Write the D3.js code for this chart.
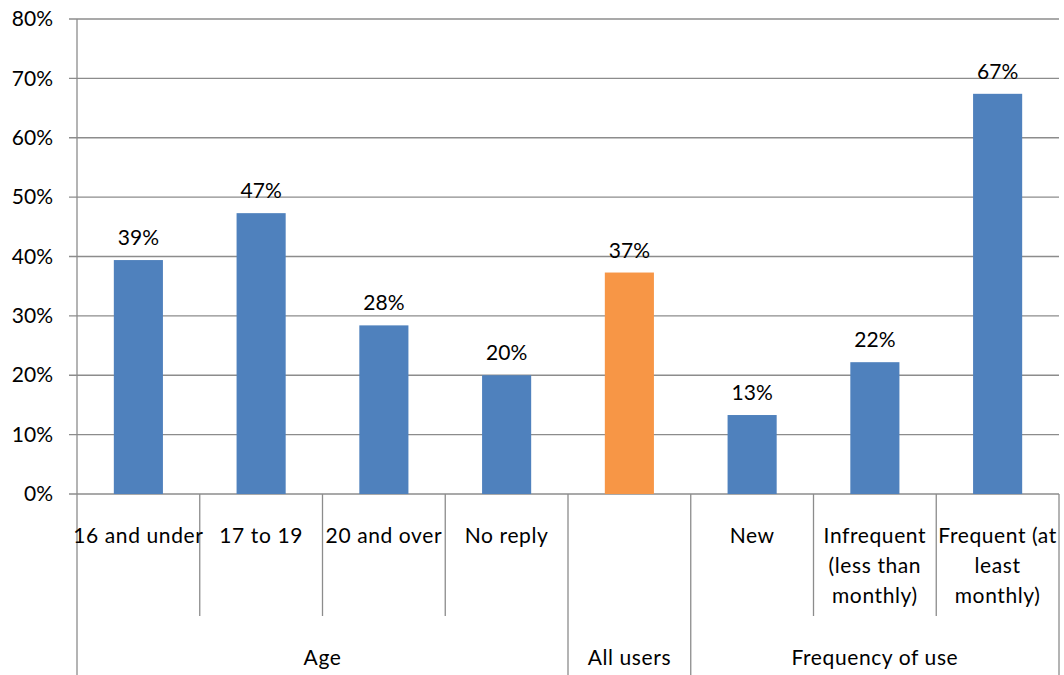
<!DOCTYPE html>
<html>
<head>
<meta charset="utf-8">
<script src="https://cdn.jsdelivr.net/npm/d3@7"></script>
<style>
  html, body { margin: 0; padding: 0; background: #fff; }
  svg { display: block; }
  text { font-family: Lato, "Open Sans", sans-serif; fill: #000; }
</style>
</head>
<body>
<svg id="chart" width="1064" height="675"></svg>
<script>
// Share of respondents, by age group and by frequency of use
const categories = ["16 and under", "17 to 19", "20 and over", "No reply", "All users", "New", "Infrequent (less than monthly)", "Frequent (at least monthly)"];
const categoryLines = [["16 and under"], ["17 to 19"], ["20 and over"], ["No reply"], [""], ["New"], ["Infrequent", "(less than", "monthly)"], ["Frequent (at", "least", "monthly)"]];
const values = [0.394, 0.473, 0.284, 0.200, 0.373, 0.133, 0.222, 0.674];
const groupNames = ["Age", "All users", "Frequency of use"];
const groupSizes = [4, 1, 3];
const yTicks = [0, 0.1, 0.2, 0.3, 0.4, 0.5, 0.6, 0.7, 0.8];

const W = 1064, H = 675;
const plotLeft = 77, plotRight = 1059, plotTop = 19, plotBottom = 494;
const blue = "#4F81BD", orange = "#F79646", gridColor = "#8c8c8c";
const fontSize = 21;
const labelSpacing = "0.6px";

const svg = d3.select("#chart");

const x = d3.scaleBand()
  .domain(categories)
  .range([plotLeft, plotRight])
  .paddingInner(0.6)
  .paddingOuter(0.3);
const step = x.step();

const y = d3.scaleLinear().domain([0, 0.8]).range([plotBottom, plotTop]);
const pct = d3.format(".0%");

// Horizontal gridlines, with the short outside tick
svg.append("g")
  .selectAll("line")
  .data(yTicks)
  .join("line")
  .attr("x1", plotLeft - 8).attr("x2", plotRight)
  .attr("y1", d => y(d)).attr("y2", d => y(d))
  .attr("stroke", gridColor).attr("stroke-width", 1.3);

// Y axis labels
const yAxis = d3.axisLeft(y).tickValues(yTicks).tickFormat(pct).tickSize(0).tickPadding(24);
const gy = svg.append("g").attr("transform", `translate(${plotLeft},0)`).call(yAxis);
gy.select(".domain").remove();
gy.selectAll("text").style("font-size", fontSize + "px").style("font-family", "Lato, sans-serif").attr("fill", "#000");

// Bars
svg.append("g")
  .selectAll("rect")
  .data(categories)
  .join("rect")
  .attr("x", d => x(d))
  .attr("width", x.bandwidth())
  .attr("y", (d, i) => y(values[i]))
  .attr("height", (d, i) => y(0) - y(values[i]))
  .attr("fill", d => d === "All users" ? orange : blue);

// Value labels above bars
svg.append("g")
  .selectAll("text")
  .data(categories)
  .join("text")
  .attr("x", d => x(d) + x.bandwidth() / 2)
  .attr("y", (d, i) => y(values[i]) - 15)
  .attr("text-anchor", "middle")
  .style("font-size", fontSize + "px")
  .text((d, i) => pct(values[i]));

// Vertical axis line (runs through the category rows)
svg.append("line")
  .attr("x1", plotLeft).attr("x2", plotLeft)
  .attr("y1", plotTop).attr("y2", H)
  .attr("stroke", gridColor).attr("stroke-width", 1.3);

// Category separators: short ones inside a group, full ones between groups
const groupEdges = new Set([0]);
let acc = 0;
groupSizes.forEach(s => { acc += s; groupEdges.add(acc); });
const sepIdx = d3.range(1, categories.length + 1);
svg.append("g")
  .selectAll("line")
  .data(sepIdx)
  .join("line")
  .attr("x1", i => plotLeft + i * step).attr("x2", i => plotLeft + i * step)
  .attr("y1", plotBottom)
  .attr("y2", i => groupEdges.has(i) ? H : 616)
  .attr("stroke", gridColor).attr("stroke-width", 1.3);

// Category labels
const catG = svg.append("g")
  .selectAll("text")
  .data(categories)
  .join("text")
  .attr("text-anchor", "middle")
  .style("font-size", fontSize + "px")
  .style("letter-spacing", labelSpacing);
catG.each(function (d, i) {
  const t = d3.select(this);
  const cx = x(d) + x.bandwidth() / 2;
  categoryLines[i].forEach((line, k) => {
    t.append("tspan").attr("x", cx).attr("y", 543 + k * 30).text(line);
  });
});

// Group labels
let start = 0;
const groupPos = groupSizes.map(s => { const g = { a: start, b: start + s }; start += s; return g; });
svg.append("g")
  .selectAll("text")
  .data(groupNames)
  .join("text")
  .attr("x", (d, i) => plotLeft + (groupPos[i].a + groupPos[i].b) / 2 * step)
  .attr("y", 665)
  .attr("text-anchor", "middle")
  .style("font-size", fontSize + "px")
  .style("letter-spacing", labelSpacing)
  .text(d => d);
</script>
</body>
</html>
